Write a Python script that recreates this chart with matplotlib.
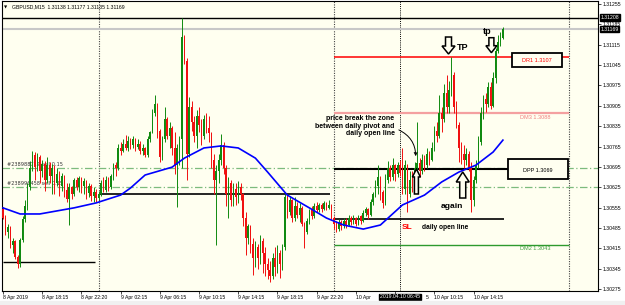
import matplotlib
matplotlib.use("Agg")
import matplotlib.pyplot as plt
from matplotlib.patches import Polygon, Rectangle
from matplotlib.transforms import blended_transform_factory
import numpy as np

# GBPUSD M15, prices in points above 1.30000 (1 point = 0.00001)
first_open = 550
closes = [520, 470, 488, 425, 440, 385, 360, 445, 515, 560,
          625, 690, 735, 695, 730, 680, 705, 650, 700, 665,
          690, 640, 672, 630, 662, 615, 585, 625, 600, 650,
          625, 655, 628, 645, 605, 630, 595, 610, 588, 600,
          640, 615, 650, 625, 665, 700, 690, 760, 750, 775,
          760, 785, 770, 790, 765, 775, 748, 760, 735, 790,
          815, 880, 910, 820, 730, 790, 860, 800, 830, 760,
          700, 760, 790, 1140, 1060, 740, 900, 850, 800, 870,
          840, 800, 860, 830, 810, 720, 650, 680, 720, 770,
          690, 600, 640, 580, 620, 590, 625, 600, 520, 450,
          490, 430, 380, 420, 380, 440, 400, 360, 340, 320,
          380, 350, 400, 360, 420, 590, 540, 580, 520, 560,
          530, 555, 500, 470, 510, 545, 525, 560, 545, 565,
          550, 570, 555, 565, 520, 500, 480, 505, 490, 510,
          495, 520, 505, 518, 500, 525, 510, 535, 550, 530,
          575, 600, 630, 660, 610, 570, 650, 690, 660, 700,
          670, 700, 675, 620, 700, 600, 650, 630, 690, 710,
          680, 720, 700, 740, 720, 760, 820, 800, 880, 860,
          950, 900, 960, 1010, 900, 840, 760, 740, 720, 740,
          690, 580, 650, 700, 780, 880, 930, 910, 970, 905,
          1000, 1095, 1125, 1138, 1169]
highs = [556, 530, 500, 490, 450, 445, 392, 450, 525, 580,
         640, 715, 750, 745, 742, 735, 720, 715, 728, 712,
         705, 700, 690, 680, 675, 668, 640, 640, 630, 655,
         660, 662, 660, 655, 650, 640, 635, 625, 618, 612,
         650, 660, 665, 660, 672, 710, 712, 775, 780, 790,
         805, 800, 795, 800, 795, 790, 785, 775, 765, 800,
         820, 895, 942, 915, 825, 800, 900, 865, 850, 835,
         815, 775, 800, 1207, 1150, 1070, 935, 920, 870, 890,
         900, 860, 875, 880, 870, 815, 740, 700, 740, 808,
         780, 700, 660, 650, 640, 640, 645, 640, 605, 540,
         500, 495, 450, 440, 430, 460, 450, 420, 380, 370,
         400, 420, 426, 410, 430, 600, 598, 595, 585, 590,
         575, 570, 560, 505, 520, 550, 560, 570, 575, 572,
         570, 578, 575, 580, 568, 525, 510, 515, 512, 520,
         518, 529, 525, 528, 522, 530, 528, 545, 556, 555,
         585, 610, 650, 700, 665, 615, 670, 715, 700, 725,
         705, 712, 720, 760, 720, 705, 680, 680, 712, 849,
         725, 740, 735, 760, 750, 780, 835, 850, 942, 900,
         980, 1011, 990, 1073, 1021, 920, 850, 780, 770, 760,
         750, 712, 665, 720, 800, 900, 942, 950, 987, 987,
         1020, 1104, 1150, 1160, 1177]
lows = [515, 462, 450, 415, 398, 378, 347, 352, 438, 505,
        548, 615, 680, 650, 680, 640, 660, 612, 640, 640,
        600, 600, 630, 595, 612, 590, 575, 495, 585, 595,
        615, 610, 605, 600, 585, 590, 578, 575, 575, 582,
        595, 608, 610, 612, 618, 650, 665, 685, 735, 745,
        752, 750, 755, 760, 750, 755, 740, 735, 728, 730,
        780, 810, 870, 795, 712, 720, 780, 790, 760, 736,
        670, 557, 700, 690, 1050, 650, 730, 820, 780, 760,
        815, 770, 790, 810, 780, 690, 600, 426, 640, 700,
        670, 560, 519, 560, 560, 565, 570, 580, 490, 392,
        430, 400, 323, 350, 345, 360, 330, 320, 310, 299,
        310, 320, 330, 313, 340, 410, 520, 530, 505, 510,
        520, 505, 490, 416, 465, 500, 515, 520, 540, 540,
        540, 545, 545, 550, 515, 480, 471, 475, 478, 485,
        485, 490, 495, 498, 490, 495, 500, 505, 525, 515,
        525, 565, 590, 600, 580, 554, 565, 640, 645, 650,
        645, 660, 665, 600, 600, 540, 590, 610, 622, 650,
        660, 670, 680, 690, 700, 715, 750, 780, 795, 815,
        850, 880, 880, 940, 880, 829, 712, 705, 691, 700,
        680, 540, 560, 640, 690, 770, 860, 884, 900, 895,
        900, 985, 1085, 1110, 1135]

# moving average (bar index, points)
ma_idx = [0, 7, 15, 29, 38, 48, 52, 58, 69, 74, 82, 89, 96, 103, 108, 116,
          125, 132, 139, 147, 154, 163, 172, 179, 186, 193, 200, 204]
ma_pts = [554, 533, 533, 554, 571, 598, 622, 667, 694, 725, 760, 767, 760, 725, 677, 598,
          554, 519, 495, 481, 495, 564, 598, 643, 677, 701, 746, 787]

# the cursor label hides most of "10 Apr 02:15" and "10 Apr 06:15"
time_ticks = [0, 16, 32, 48, 64, 80, 96, 112, 128, 144, 160, 176, 192]
time_labels = ["8 Apr 2019", "8 Apr 18:15", "8 Apr 22:20", "9 Apr 02:15", "9 Apr 06:15",
               "9 Apr 10:15", "9 Apr 14:15", "9 Apr 18:15", "9 Apr 22:20", "10 Apr",
               "", "10 Apr 10:15", "10 Apr 14:15"]
price_labels = ["1.30275", "1.30345", "1.30415", "1.30485", "1.30555", "1.30625", "1.30695",
                "1.30765", "1.30835", "1.30905", "1.30975", "1.31045", "1.31115", "1.31185", "1.31255"]
separators = [39.2, 135, 231]

# pivot levels for 10 Apr
dr1, dm3, dpp, dm2 = 1.31073, 1.30880, 1.30688, 1.30426
open_10apr, open_9apr, prev_level = 1.30516, 1.30602, 1.30368
order_lines = [1.30691, 1.30626]
order_texts = ["#238988712 sell 0.15", "#238996458 sell 0.15"]
high_line, bid = 1.31208, 1.31169

BG = "#FFFFF0"
BULL, BEAR = "#108A10", "#F01010"

o = (np.array([first_open] + closes[:-1]) * 1e-5) + 1.3
c = np.array(closes) * 1e-5 + 1.3
h = np.array(highs) * 1e-5 + 1.3
l = np.array(lows) * 1e-5 + 1.3
idx = np.arange(len(c))
cols = [BULL if cc >= oo else BEAR for oo, cc in zip(o, c)]

fig = plt.figure(figsize=(6.25, 3.05), dpi=100, facecolor="white")
AX_W, AX_H = 596, 290
ax = fig.add_axes([2 / 625, 14 / 305, AX_W / 625, AX_H / 305])
ax.set_facecolor(BG)
XMIN, XMAX = -0.4, 242.8
YMIN, YMAX = 1.302681, 1.312654
ax.set_xlim(XMIN, XMAX)
ax.set_ylim(YMIN, YMAX)
fig.patches.append(Rectangle((0, 0), 1, 4 / 305, transform=fig.transFigure,
                             color="#F0F0F0", zorder=0))

# horizontal levels
ax.axhline(high_line, color="black", lw=1.0, zorder=2)
ax.axhline(bid, color="#C8C8C8", lw=1.5, zorder=2)
for lv in order_lines:
    ax.axhline(lv, color="#7DBB7D", lw=0.9, ls=(0, (6, 2, 1, 2)), zorder=2)
for lv, txt in zip(order_lines, order_texts):
    ax.text(1.6, lv + 0.00003, txt, fontsize=3.6, color="#333333", va="bottom", zorder=3)
ax.hlines(prev_level, 0, 37.5, color="black", lw=1.0, zorder=2)
ax.hlines(open_9apr, 39.2, 133.5, color="black", lw=1.2, zorder=2)
ax.hlines(open_10apr, 135, 204.5, color="black", lw=1.2, zorder=2)
ax.hlines(dr1, 135, 231, color="#FF0000", lw=1.1, zorder=2)
ax.hlines(dm3, 135, 231, color="#F4A0A0", lw=1.6, zorder=2)
ax.hlines(dpp, 135, 231, color="black", lw=1.5, zorder=2)
ax.hlines(dm2, 135, 231, color="#2E9A2E", lw=1.0, zorder=2)

for s in separators:
    ax.axvline(s, color="#444444", lw=0.8, ls=(0, (1, 1.2)), zorder=1)
ax.axvline(162, color="black", lw=0.7, ls=(0, (1, 1.2)), zorder=1)

# candles
ax.vlines(idx, l, h, colors=cols, lw=0.7, zorder=4)
ax.bar(idx, np.maximum(np.abs(c - o), 0.00002), bottom=np.minimum(o, c),
       width=0.6, color=cols, lw=0, zorder=4)

# moving average
ax.plot(ma_idx, np.array(ma_pts) * 1e-5 + 1.3, color="#0000FF", lw=1.2, zorder=5)

sx = (XMAX - XMIN) / AX_W
sy = (YMAX - YMIN) / AX_H


def hollow_arrow(xc, tip, length, head_w, shaft_w, head_len, up=True):
    d = 1 if up else -1
    hw, sw = head_w * sx / 2, shaft_w * sx / 2
    hl, L = head_len * sy, length * sy
    pts = [(xc, tip), (xc - hw, tip - d * hl), (xc - sw, tip - d * hl),
           (xc - sw, tip - d * L), (xc + sw, tip - d * L), (xc + sw, tip - d * hl),
           (xc + hw, tip - d * hl)]
    ax.add_patch(Polygon(pts, closed=True, facecolor=BG, edgecolor="black",
                         lw=1.1, zorder=7))


hollow_arrow(181.8, 1.310831, 17, 13, 6, 8, up=False)
hollow_arrow(199.3, 1.310876, 15, 11, 5, 7, up=False)
hollow_arrow(168.7, 1.306877, 25, 8, 4, 8, up=True)
hollow_arrow(187.6, 1.306773, 26, 13, 6, 10, up=True)

fam = ["Liberation Sans", "DejaVu Sans"]
ax.text(185.2, 1.311072, "TP", fontsize=6.5, fontweight="bold", family=fam, va="center", zorder=8)
ax.text(196.0, 1.311588, "tp", fontsize=6.5, fontweight="bold", family=fam, va="center", zorder=8)
ax.text(159.8, 1.30872, "price break the zone\nbetween daily pivot and\ndaily open line",
        fontsize=5, fontweight="bold", family=fam, ha="right", va="top",
        linespacing=1.05, zorder=8)
ax.annotate("", xy=(168.4, 1.30722), xytext=(160.5, 1.30826),
            arrowprops=dict(arrowstyle="->", lw=0.7, color="black",
                            connectionstyle="arc3,rad=-0.35", mutation_scale=5), zorder=8)
ax.text(183, 1.30560, "again", fontsize=6, fontweight="bold", family=fam,
        ha="center", va="center", zorder=8)
ax.text(162.8, 1.30488, "SL", fontsize=6, fontweight="bold", family=fam, color="#FF0000",
        va="center", zorder=8)
ax.text(171, 1.30488, "daily open line", fontsize=4.8, fontweight="bold", family=fam,
        va="center", zorder=8)

# level boxes and captions
ax.add_patch(Rectangle((207.7, 1.31038), 20.4, 0.00048, facecolor=BG,
                       edgecolor="black", lw=1.3, zorder=7))
ax.text(217.9, 1.31062, "DR1 1.3107", fontsize=4, color="#FF0000", family=fam,
        ha="center", va="center", zorder=8)
ax.add_patch(Rectangle((206.0, 1.30652), 24.5, 0.00069, facecolor=BG,
                       edgecolor="black", lw=1.3, zorder=7))
ax.text(218.3, 1.30684, "DPP 1.3069", fontsize=4, color="black", family=fam,
        ha="center", va="center", zorder=8)
ax.text(211, 1.30866, "DM3 1.3088", fontsize=4, color="#F08080", family=fam,
        va="center", zorder=8)
ax.text(211, 1.30413, "DM2 1.3043", fontsize=4, color="#3E9E3E", family=fam,
        va="center", zorder=8)

ax.text(0.004, 0.985, "\u25BC", fontsize=3, transform=ax.transAxes, va="top", zorder=8)
ax.text(0.016, 0.988, "GBPUSD,M15  1.31138 1.31177 1.31135 1.31169", fontsize=3.7,
        family=fam, transform=ax.transAxes, va="top", zorder=8)

# axes
ax.yaxis.tick_right()
ax.set_yticks([float(p) for p in price_labels])
ax.set_yticklabels(price_labels)
ax.set_xticks(time_ticks)
ax.set_xticklabels(time_labels)
for lab in ax.get_xticklabels():
    lab.set_ha("left")
ax.tick_params(axis="both", labelsize=3.7, length=2, width=0.5, pad=1, colors="black")
for lab in ax.get_xticklabels() + ax.get_yticklabels():
    lab.set_family(fam)
for sp in ax.spines.values():
    sp.set_linewidth(0.8)

ty = blended_transform_factory(ax.transAxes, ax.transData)
for val, txt in [(high_line, "1.31208"), (bid, "1.31169")]:
    ax.text(1.004, val, txt, transform=ty, fontsize=3.7, color="white", family=fam,
            va="center", ha="left", clip_on=False, zorder=9,
            bbox=dict(boxstyle="square,pad=0.15", fc="black", ec="black"))
tx = blended_transform_factory(ax.transData, ax.transAxes)
ax.text(162, -0.012, "2019.04.10 06:45", transform=tx, fontsize=3.7, color="white",
        family=fam, ha="center", va="top", clip_on=False, zorder=9,
        bbox=dict(boxstyle="square,pad=0.15", fc="black", ec="black"))
ax.text(172.6, -0.0145, "5", transform=tx, fontsize=3.7, family=fam,
        ha="left", va="top", clip_on=False)

fig.savefig("out.png", dpi=100, facecolor="white")
